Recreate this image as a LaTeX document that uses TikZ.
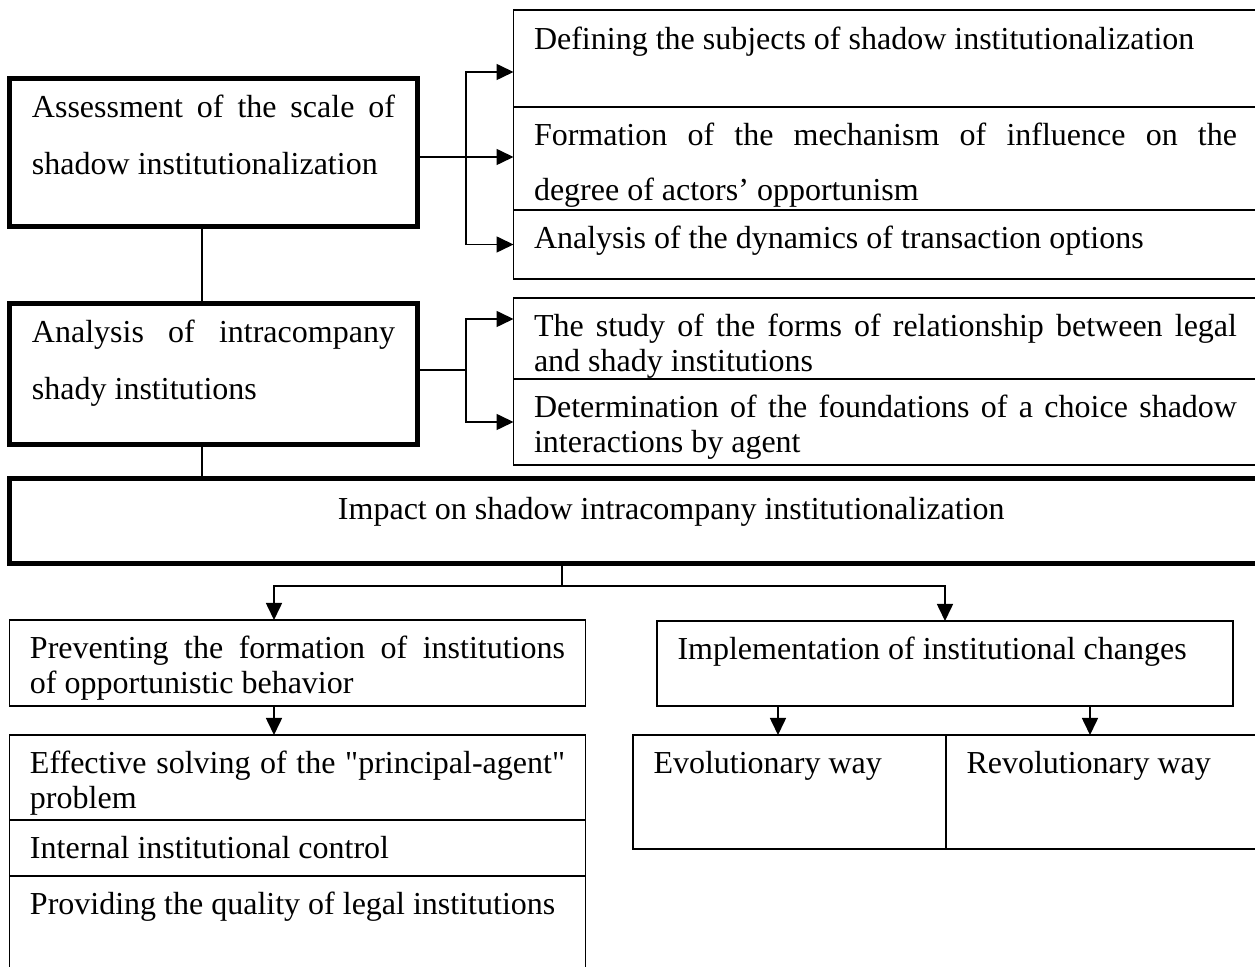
\documentclass[tikz,border=0pt]{standalone}
\usepackage{fontspec}
\setmainfont{Liberation Serif}[Ligatures=TeXOff]
\usetikzlibrary{arrows.meta,positioning,calc}
\tikzset{
  >={Triangle[length=8.5pt,width=8pt]},
  every node/.style={font=\fontsize{16}{17.5}\selectfont},
  cell/.style={draw,line width=0.6pt,anchor=north west,outer sep=0pt,inner xsep=10.25pt,inner ysep=0pt,text height=19.5pt,align=justify},
  bigbox/.style={cell,line width=2.5pt,inner xsep=11.25pt,text height=19.75pt,font=\fontsize{16}{28.5}\selectfont},
  rcell/.style={cell,text width=351.5pt},
  lcell/.style={cell,text width=267.5pt},
  link/.style={draw,line width=0.6pt},
  arrow/.style={->,line width=0.8pt},
}
\begin{document}
\begin{tikzpicture}[x=0.5pt,y=-0.5pt]
\useasboundingbox (0,0) rectangle (1255,967);
\clip (0,0) rectangle (1255,967);

\node[bigbox,text width=181.5pt,text depth=54.25pt] (assess) at (9.5,78.5) {Assessment of the scale of\linebreak shadow institutionalization};
\node[bigbox,text width=181.5pt,text depth=50.75pt] (intra) at (9.5,303.5) {Analysis of intracompany\linebreak shady institutions};
\node[bigbox,text width=603.75pt,text height=20.75pt,text depth=21.75pt] (impact) at (9.5,478.5) {\hspace*{153pt}Impact on shadow intracompany institutionalization};

\node[rcell,text height=20pt,text depth=28.5pt] (subj) at (513.5,10) {Defining the subjects of shadow institutionalization};
\node[rcell,below=0pt of subj,text depth=32pt,font=\fontsize{16}{27.5}\selectfont] (mech) {Formation of the mechanism of influence on the\linebreak degree of actors’ opportunism};
\node[rcell,below=0pt of mech,text depth=15pt] (dyn) {Analysis of the dynamics of transaction options};

\node[rcell,text depth=21pt] (forms) at (513.5,298) {The study of the forms of relationship between legal\linebreak and shady institutions};
\node[rcell,below=0pt of forms,text depth=23.5pt] (choice) {Determination of the foundations of a choice shadow\linebreak interactions by agent};

\node[lcell,text depth=23.5pt] (prevent) at (9.5,620) {Preventing the formation of institutions\linebreak of opportunistic behavior};
\node[lcell,text depth=23pt] (agent) at (9.5,735) {Effective solving of the "principal-agent"\linebreak problem};
\node[lcell,below=0pt of agent,text depth=8.5pt] (control) {Internal institutional control};
\node[lcell,below=0pt of control,text depth=40pt] (quality) {Providing the quality of legal institutions};

\node[lcell,text depth=23pt] (change) at (657,621) {Implementation of institutional changes};
\node[cell,text width=136pt,text depth=37.5pt] (evol) at (633,735) {Evolutionary way};
\node[cell,right=0pt of evol,text width=137.5pt,text depth=37.5pt] (revol) {Revolutionary way};

\coordinate (fork1) at (466,157);
\coordinate (fork2) at (466,370);
\coordinate (split) at (562,586);

\draw[link] (assess.east |- fork1) -- (fork1);
\draw[arrow] (fork1) |- ([yshift=-6.75pt]subj.west);
\draw[arrow] (fork1) -- (fork1 -| mech.west);
\draw[arrow] (fork1) |- (dyn.west);
\draw[link] (intra.east |- fork2) -- (fork2);
\draw[arrow] (fork2) |- ([yshift=9.75pt]forms.west);
\draw[arrow] (fork2) |- (choice.west);

\draw[link] ([xshift=-5.75pt]assess.south) -- ([xshift=-5.75pt]intra.north);
\draw[link] ([xshift=-5.75pt]intra.south) -- ([xshift=-5.75pt]intra.south |- impact.north);
\draw[link] (impact.south -| split) -- (split);
\draw[arrow] (split) -| ([xshift=-11.75pt]prevent.north);
\draw[arrow] (split) -| (change.north);
\draw[arrow] ([xshift=-11.75pt]prevent.south) -- ([xshift=-11.75pt]agent.north);
\draw[arrow] ([xshift=-5.75pt]evol.north |- change.south) -- ([xshift=-5.75pt]evol.north);
\draw[arrow] ([xshift=-7pt]revol.north |- change.south) -- ([xshift=-7pt]revol.north);

\end{tikzpicture}
\end{document}
